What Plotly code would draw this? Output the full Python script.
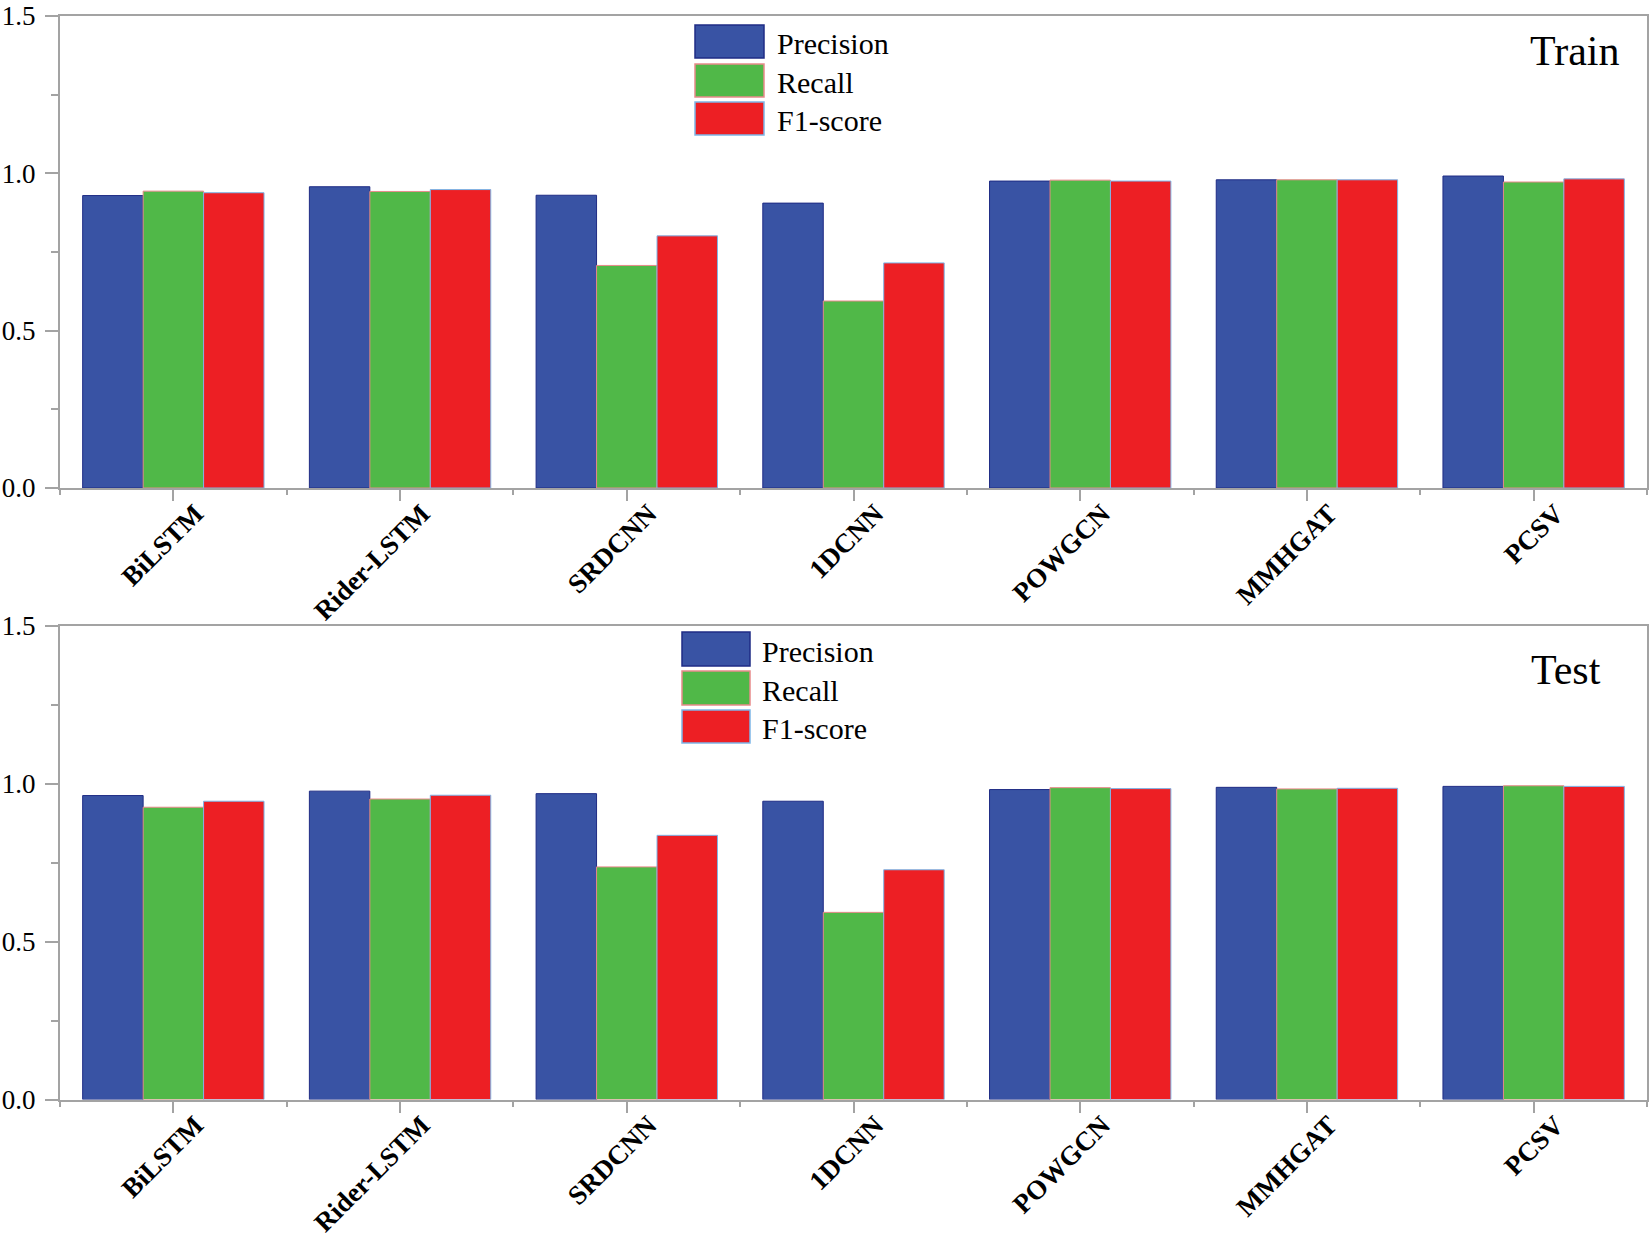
import plotly.graph_objects as go
from plotly.subplots import make_subplots

categories = ["BiLSTM", "Rider-LSTM", "SRDCNN", "1DCNN", "POWGCN", "MMHGAT", "PCSV"]
series_names = ["Precision", "Recall", "F1-score"]

train_precision = [0.929, 0.957, 0.930, 0.905, 0.975, 0.979, 0.991]
train_recall    = [0.943, 0.942, 0.707, 0.594, 0.978, 0.979, 0.972]
train_f1        = [0.938, 0.948, 0.801, 0.715, 0.975, 0.979, 0.982]

test_precision = [0.963, 0.977, 0.969, 0.945, 0.982, 0.989, 0.992]
test_recall    = [0.926, 0.952, 0.737, 0.593, 0.988, 0.984, 0.994]
test_f1        = [0.945, 0.964, 0.837, 0.728, 0.985, 0.986, 0.992]

y_ticks = [0.0, 0.5, 1.0, 1.5]

fill_colors = ["#3953A4", "#50B848", "#ED1F24"]
edge_colors = ["#1F2C85", "#E88A8A", "#7DB6E8"]

W, H = 1650, 1249
ML, MR, MT, MB = 60, 3, 15, 149
PW, PH = W - ML - MR, H - MT - MB


def px(x):
    return (x - ML) / PW


def py(y):
    return (H - MB - y) / PH


def clamp(v):
    return max(0.0, min(1.0, v))


fig = make_subplots(rows=2, cols=1, vertical_spacing=0.0)

xs = list(range(len(categories)))
panels = [
    (1, [train_precision, train_recall, train_f1]),
    (2, [test_precision, test_recall, test_f1]),
]
for row, vals in panels:
    for i, (name, v) in enumerate(zip(series_names, vals)):
        fig.add_trace(
            go.Bar(
                x=xs, y=v, name=name, showlegend=False,
                marker=dict(color=fill_colors[i], line=dict(color=edge_colors[i], width=1)),
            ),
            row=row, col=1,
        )

axis_color = "#A3A3A3"
serif = "Liberation Serif"

top_dom = [clamp(py(488)), clamp(py(15.8))]
bot_dom = [clamp(py(1099.6)), clamp(py(626))]

for row, dom in [(1, top_dom), (2, bot_dom)]:
    fig.update_xaxes(
        row=row, col=1,
        automargin=False,
        range=[-0.5, len(categories) - 0.5],
        tickmode="array", tickvals=xs, ticktext=categories,
        tickangle=-45,
        tickfont=dict(family=serif, size=27, color="black", weight="bold"),
        ticklabelstandoff=-14, ticklabelshift=22,
        showline=True, linecolor=axis_color, linewidth=2, mirror=True,
        ticks="outside", ticklen=11, tickwidth=2, tickcolor=axis_color,
        minor=dict(tickmode="array", tickvals=[i - 0.5 for i in range(len(categories) + 1)],
                   ticks="outside", ticklen=5, tickwidth=2, tickcolor=axis_color, showgrid=False),
        showgrid=False, zeroline=False,
    )
    fig.update_yaxes(
        row=row, col=1,
        automargin=False,
        domain=dom,
        range=[0, 1.5],
        tickmode="array", tickvals=y_ticks, tickformat=".1f",
        tickfont=dict(family=serif, size=27, color="black"),
        ticklabelstandoff=4,
        showline=True, linecolor=axis_color, linewidth=2, mirror=True,
        ticks="outside", ticklen=13, tickwidth=2, tickcolor=axis_color,
        minor=dict(dtick=0.25, tick0=0, ticks="outside", ticklen=7, tickwidth=2,
                   tickcolor=axis_color, showgrid=False),
        showgrid=False, zeroline=False,
    )

# Custom legends (large swatches) and panel labels
shapes = []
annotations = []
legend_specs = [
    (695, 764, 775, [(25, 58), (64, 97), (102, 135)]),
    (682, 750, 760, [(632, 666), (671, 705), (710, 743)]),
]
for sx0, sx1, tx, rows in legend_specs:
    for i, (y0, y1) in enumerate(rows):
        shapes.append(dict(
            type="rect", xref="paper", yref="paper",
            x0=px(sx0), x1=px(sx1), y0=py(y1), y1=py(y0),
            fillcolor=fill_colors[i], line=dict(color=edge_colors[i], width=1.5),
        ))
        annotations.append(dict(
            xref="paper", yref="paper", x=px(tx), y=py((y0 + y1) / 2 + 2),
            xanchor="left", yanchor="middle", text=series_names[i], showarrow=False,
            font=dict(family=serif, size=30, color="black"),
        ))

for label, x, y in [("Train", 1528, 51), ("Test", 1529, 670)]:
    annotations.append(dict(
        xref="paper", yref="paper", x=px(x), y=py(y),
        xanchor="left", yanchor="middle", text=label, showarrow=False,
        font=dict(family=serif, size=42, color="black"),
    ))

fig.update_layout(
    width=W, height=H,
    margin=dict(l=ML, r=MR, t=MT, b=MB, autoexpand=False),
    font=dict(family=serif),
    barmode="group", bargap=0.2, bargroupgap=0.0,
    plot_bgcolor="white", paper_bgcolor="white",
    shapes=shapes, annotations=annotations,
    showlegend=False,
)

fig.write_html(
    "out.html",
    config={"displayModeBar": False},
    post_script="document.body.style.margin='0';document.body.style.overflow='hidden';",
)
